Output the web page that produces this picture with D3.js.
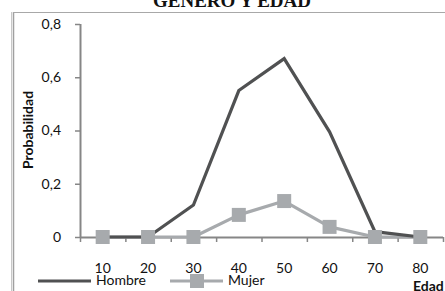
<!DOCTYPE html>
<html>
<head>
<meta charset="utf-8">
<script src="https://cdn.jsdelivr.net/npm/d3@7"></script>
<style>
  body { margin: 0; background: #fff; }
  svg { display: block; }
</style>
</head>
<body>
<div id="chart"></div>
<script>
const edades = ['10', '20', '30', '40', '50', '60', '70', '80']
const hombre = [0, 0, 0.12, 0.55, 0.67, 0.395, 0.02, 0]
const mujer = [0, 0, 0, 0.083, 0.135, 0.038, 0, 0]
const yTicks = [0, 0.2, 0.4, 0.6, 0.8]

const width = 445
const height = 291
const x0 = 80
const x1 = 443
const yTop = 24
const yBase = 237
const fontSize = 14

const svg = d3.select('#chart')
  .append('svg')
  .attr('width', width)
  .attr('height', height)

// title, cut at the top
svg.append('text')
  .attr('x', 232)
  .attr('y', 7)
  .attr('text-anchor', 'middle')
  .attr('font-family', 'Liberation Serif')
  .attr('font-weight', 'bold')
  .attr('font-size', 19)
  .attr('fill', '#111')
  .text('GENERO Y EDAD')

// frame
svg.append('line')
  .attr('x1', 11.5).attr('x2', 11.5).attr('y1', 12).attr('y2', height)
  .attr('stroke', '#c8c8c8').attr('stroke-width', 1)
svg.append('line')
  .attr('x1', 13.5).attr('x2', 13.5).attr('y1', 12).attr('y2', height)
  .attr('stroke', '#a0a0a0').attr('stroke-width', 1.5)
svg.append('line')
  .attr('x1', 13).attr('x2', width).attr('y1', 12.5).attr('y2', 12.5)
  .attr('stroke', '#a8a8a8').attr('stroke-width', 1.2)

const x = d3.scaleBand()
  .domain(edades)
  .range([x0, x1])

const y = d3.scaleLinear()
  .domain([0, 0.8])
  .range([yBase, yTop])

const fmt = d => d === 0 ? '0' : d3.format('.1f')(d).replace('.', ',')

// y axis
const yAxis = svg.append('g')
  .attr('transform', `translate(${x0},0)`)
  .call(d3.axisLeft(y).tickValues(yTicks).tickSize(5).tickPadding(14).tickFormat(fmt))
yAxis.select('.domain').attr('stroke', '#868686').attr('stroke-width', 2)
  .attr('d', `M0.5,${yTop}V${yBase}`)
yAxis.selectAll('.tick line').attr('stroke', '#868686').attr('stroke-width', 1.5)
yAxis.selectAll('.tick text')
  .attr('font-family', 'Lato')
  .attr('font-size', fontSize)
  .attr('fill', '#111')

// x axis: ticks between categories
const xAxis = svg.append('g')
  .attr('transform', `translate(0,${yBase})`)
xAxis.append('line')
  .attr('x1', x0).attr('x2', x1)
  .attr('y1', 0.5).attr('y2', 0.5)
  .attr('stroke', '#868686').attr('stroke-width', 2)
const bounds = edades.map(d => x(d)).concat([x1])
xAxis.selectAll('line.tk')
  .data(bounds)
  .enter()
  .append('line')
  .attr('class', 'tk')
  .attr('x1', d => d + 0.5).attr('x2', d => d + 0.5)
  .attr('y1', 0).attr('y2', 5)
  .attr('stroke', '#868686').attr('stroke-width', 1.5)
xAxis.selectAll('text')
  .data(edades)
  .enter()
  .append('text')
  .attr('x', d => x(d) + x.bandwidth() / 2)
  .attr('y', 36)
  .attr('text-anchor', 'middle')
  .attr('font-family', 'Lato')
  .attr('font-size', fontSize)
  .attr('fill', '#111')
  .text(d => d)

const line = d3.line()
  .x((d, i) => x(edades[i]) + x.bandwidth() / 2)
  .y(d => y(d))

svg.append('path')
  .datum(mujer)
  .attr('d', line)
  .attr('fill', 'none')
  .attr('stroke', '#a7aaad')
  .attr('stroke-width', 3.2)
  .attr('stroke-linejoin', 'round')

svg.append('path')
  .datum(hombre)
  .attr('d', line)
  .attr('fill', 'none')
  .attr('stroke', '#505152')
  .attr('stroke-width', 3.2)
  .attr('stroke-linejoin', 'miter')

svg.selectAll('rect.mk')
  .data(mujer)
  .enter()
  .append('rect')
  .attr('class', 'mk')
  .attr('x', (d, i) => x(edades[i]) + x.bandwidth() / 2 - 7)
  .attr('y', d => y(d) - 7)
  .attr('width', 14)
  .attr('height', 14)
  .attr('fill', '#a7aaad')

// axis titles
svg.append('text')
  .attr('transform', 'translate(33,130) rotate(-90)')
  .attr('text-anchor', 'middle')
  .attr('font-family', 'Lato')
  .attr('font-weight', 'bold')
  .attr('font-size', fontSize)
  .attr('fill', '#111')
  .text('Probabilidad')

svg.append('text')
  .attr('x', 413)
  .attr('y', 291)
  .attr('font-family', 'Lato')
  .attr('font-weight', 'bold')
  .attr('font-size', fontSize)
  .attr('fill', '#111')
  .text('Edad')

// legend
const legend = svg.append('g')
legend.append('line')
  .attr('x1', 38).attr('x2', 91).attr('y1', 281).attr('y2', 281)
  .attr('stroke', '#505152').attr('stroke-width', 3.2)
legend.append('text')
  .attr('x', 96).attr('y', 285)
  .attr('font-family', 'Lato').attr('font-size', fontSize).attr('fill', '#111')
  .text('Hombre')
legend.append('line')
  .attr('x1', 170).attr('x2', 223).attr('y1', 281).attr('y2', 281)
  .attr('stroke', '#a7aaad').attr('stroke-width', 3.2)
legend.append('rect')
  .attr('x', 190).attr('y', 274).attr('width', 14).attr('height', 14)
  .attr('fill', '#a7aaad')
legend.append('text')
  .attr('x', 228).attr('y', 285)
  .attr('font-family', 'Lato').attr('font-size', fontSize).attr('fill', '#111')
  .text('Mujer')
</script>
</body>
</html>
